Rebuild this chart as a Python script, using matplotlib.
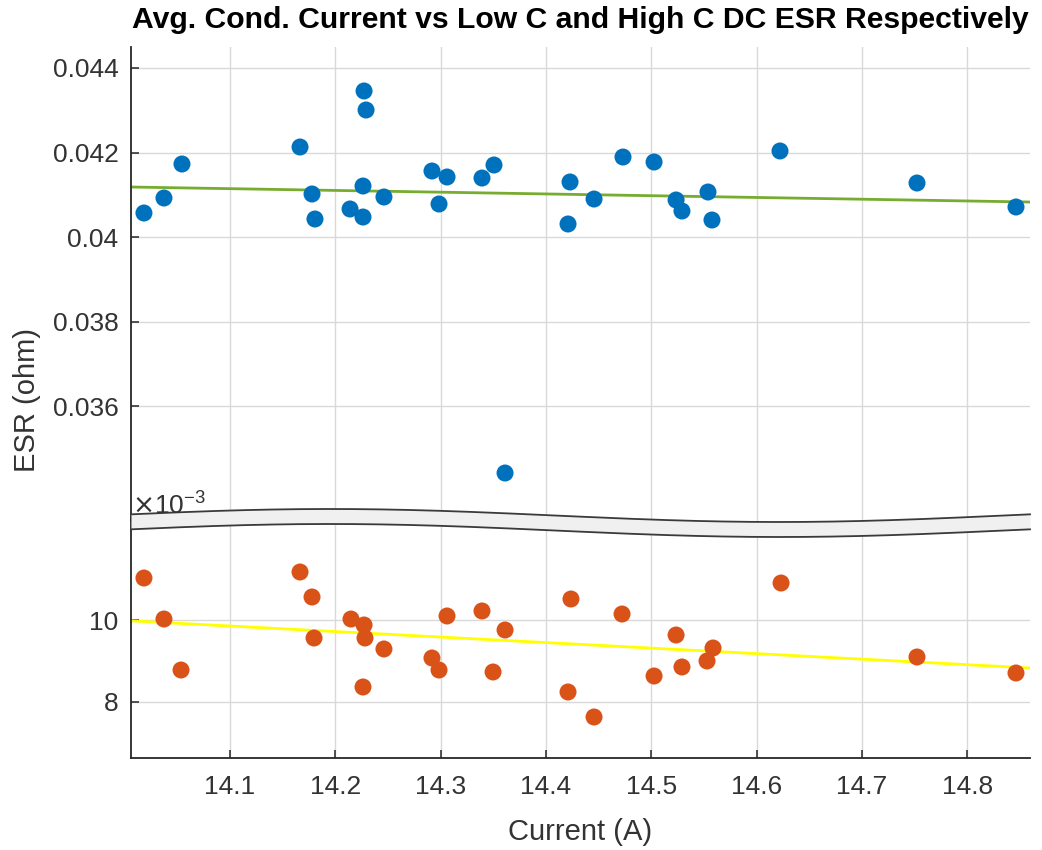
import numpy as np
import matplotlib.pyplot as plt
from matplotlib.ticker import FuncFormatter

plt.rcParams['font.family'] = ['Liberation Sans', 'DejaVu Sans']

# average conduction current (A) and measured DC ESR (ohm)
current_low = [14.0183, 14.0373, 14.0544, 14.1665, 14.1779, 14.1807, 14.2140,
               14.2263, 14.2263, 14.2273, 14.2292, 14.2462, 14.2918, 14.2985,
               14.3061, 14.3393, 14.3507, 14.3612, 14.4210, 14.4229, 14.4457,
               14.4732, 14.5027, 14.5236, 14.5292, 14.5539, 14.5577, 14.6223,
               14.7524, 14.8464]
esr_low = [0.040568, 0.040923, 0.041728, 0.042130, 0.041018, 0.040426, 0.040663,
           0.041207, 0.040473, 0.043456, 0.043006, 0.040947, 0.041562, 0.040781,
           0.041420, 0.041396, 0.041704, 0.034414, 0.040308, 0.041302, 0.040899,
           0.041893, 0.041775, 0.040876, 0.040615, 0.041065, 0.040402, 0.042036,
           0.041278, 0.040710]

current_high = [14.0183, 14.0373, 14.0535, 14.1665, 14.1779, 14.1798, 14.2149,
                14.2273, 14.2282, 14.2263, 14.2462, 14.2918, 14.2985, 14.3061,
                14.3393, 14.3498, 14.3612, 14.4210, 14.4238, 14.4457, 14.4723,
                14.5027, 14.5236, 14.5292, 14.5530, 14.5587, 14.6233, 14.7524,
                14.8464]
esr_high = [0.011024, 0.010024, 0.008780, 0.011171, 0.010561, 0.009561, 0.010024,
            0.009878, 0.009561, 0.008366, 0.009293, 0.009073, 0.008780, 0.010098,
            0.010220, 0.008732, 0.009756, 0.008244, 0.010512, 0.007634, 0.010146,
            0.008634, 0.009634, 0.008854, 0.009000, 0.009317, 0.010902, 0.009098,
            0.008707]

# linear fits, evaluated at the x limits
fit_current = [14.006, 14.8597]
fit_low = [0.041183, 0.040828]
fit_high = [0.00998, 0.00883]

x_ticks = [14.1, 14.2, 14.3, 14.4, 14.5, 14.6, 14.7, 14.8]
low_ticks = [0.036, 0.038, 0.040, 0.042, 0.044]
high_ticks = [0.008, 0.010]

BLUE = '#0072BD'
ORANGE = '#D95319'
GREEN = '#77AC30'
YELLOW = '#FFFF00'
INK = '#333333'
GRID = '#d9d9d9'

W, H = 1042, 850
fig = plt.figure(figsize=(W / 100, H / 100), dpi=100)

left, right = 131, 1030
ax_top = fig.add_axes([left / W, 1 - 520 / H, (right - left) / W, (520 - 47) / H])
ax_bot = fig.add_axes([left / W, 1 - 758 / H, (right - left) / W, (758 - 518) / H])

for ax in (ax_top, ax_bot):
    ax.set_xlim(fit_current)
    ax.set_xticks(x_ticks)
    ax.grid(True, color=GRID, linewidth=1.0)
    ax.set_axisbelow(True)
    for s in ('top', 'right'):
        ax.spines[s].set_visible(False)
    ax.spines['left'].set_color('#262626')
    ax.spines['left'].set_linewidth(1.3)
    ax.tick_params(direction='in', length=6, width=1.1, color='#262626',
                   labelcolor=INK, labelsize=19)
    ax.tick_params(axis='y', pad=9)
    ax.tick_params(axis='x', pad=12)

ax_top.scatter(current_low, esr_low, s=150, color=BLUE, edgecolors='none', zorder=3)
ax_top.plot(fit_current, fit_low, color=GREEN, linewidth=2.0, zorder=2)
ax_top.set_ylim(0.033302, 0.044497)
ax_top.set_yticks(low_ticks)
ax_top.yaxis.set_major_formatter(FuncFormatter(lambda v, p: f'{v:g}'))
ax_top.spines['bottom'].set_visible(False)
ax_top.tick_params(axis='x', length=0, labelbottom=False)

ax_bot.scatter(current_high, esr_high, s=150, color=ORANGE, edgecolors='none', zorder=3)
ax_bot.plot(fit_current, fit_high, color=YELLOW, linewidth=2.0, zorder=2)
ax_bot.set_ylim(0.006634, 0.012488)
ax_bot.set_yticks(high_ticks)
ax_bot.yaxis.set_major_formatter(FuncFormatter(lambda v, p: f'{v * 1e3:g}'))
ax_bot.spines['bottom'].set_color('#262626')
ax_bot.spines['bottom'].set_linewidth(1.3)

# wavy break band between the two panels, drawn in pixel space
brk = fig.add_axes([0, 0, 1, 1], zorder=5)
brk.set_xlim(0, W)
brk.set_ylim(H, 0)
brk.axis('off')
bx = np.linspace(left, right, 300)
band_top = 515.5 + 6.5 * np.sin(2 * np.pi * (bx - left) / (right - left) - 2.962)
band_bot = band_top + 15
brk.fill_between(bx, band_top, band_bot, color='#f0f0f0', linewidth=0)
brk.plot(bx, band_top, color='#3a3a3a', linewidth=1.3)
brk.plot(bx, band_bot, color='#3a3a3a', linewidth=1.3)

fig.text(left / W + 0.001, 1 - 514 / H, r'$\times$10$^{\mathregular{-3}}$', fontsize=19,
         color=INK, ha='left', va='baseline', zorder=10)

fig.text((left + right) / 2 / W, 1 - 20 / H,
         'Avg. Cond. Current vs Low C and High C DC ESR Respectively',
         fontsize=21.7, fontweight='bold', color='black', ha='center', va='center')
fig.text((left + right) / 2 / W, 1 - 832 / H, 'Current (A)', fontsize=21,
         color=INK, ha='center', va='center')
fig.text(27 / W, 1 - 400 / H, 'ESR (ohm)', fontsize=21, color=INK,
         rotation=90, ha='center', va='center')

fig.savefig('out.png', dpi=100)
